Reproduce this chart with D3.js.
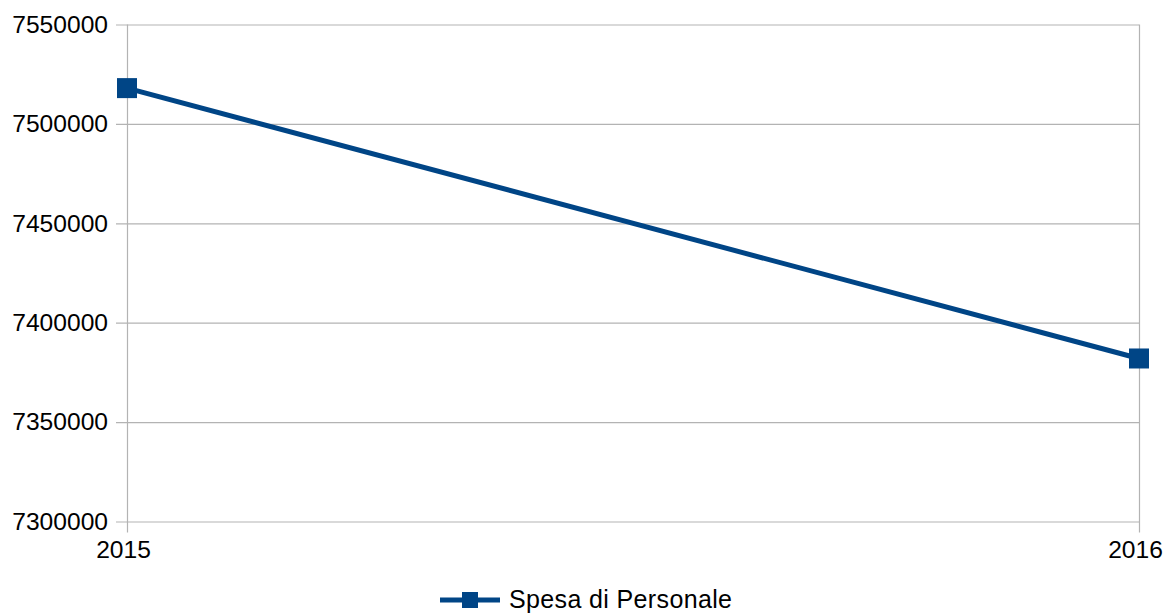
<!DOCTYPE html>
<html>
<head>
<meta charset="utf-8">
<script src="https://cdn.jsdelivr.net/npm/d3@7"></script>
<style>
  html, body { margin: 0; padding: 0; background: #fff; }
  svg { display: block; font-family: "Liberation Sans", Arial, sans-serif; }
</style>
</head>
<body>
<svg id="chart" width="1168" height="614"></svg>
<script>
// Personnel spending by year
const years = ["2015", "2016"];
const spesaPersonale = [7518000, 7382000];
const yTicks = [7300000, 7350000, 7400000, 7450000, 7500000, 7550000];
const seriesName = "Spesa di Personale";

const color = "#004586";
const gridColor = "#b3b3b3";
const fontSize = 24.6;

const svg = d3.select("#chart");
const plotLeft = 127, plotRight = 1139, plotTop = 24.5, plotBottom = 521.5;

const x = d3.scalePoint().domain(years).range([plotLeft, plotRight]);
const y = d3.scaleLinear().domain([7300000, 7550000]).range([plotBottom, plotTop]);

// horizontal gridlines with left ticks
const yAxis = d3.axisLeft(y).tickValues(yTicks).tickSize(plotRight - plotLeft + 11)
  .tickPadding(8).tickFormat(d3.format("d"));
const gy = svg.append("g").attr("transform", `translate(${plotRight},0)`).call(yAxis);
gy.select(".domain").remove();
gy.selectAll(".tick line").attr("stroke", gridColor).attr("stroke-width", 1.2);
gy.selectAll(".tick text").attr("font-size", fontSize).attr("fill", "#000")
  .attr("font-family", "Liberation Sans, Arial, sans-serif");

// vertical lines at categories
const xAxis = d3.axisBottom(x).tickSize(0).tickPadding(0);
const gx = svg.append("g").attr("transform", `translate(0,${plotBottom})`).call(xAxis);
gx.select(".domain").remove();
gx.selectAll(".tick line").remove();
gx.selectAll(".tick").append("line")
  .attr("y1", plotTop - plotBottom).attr("y2", 11)
  .attr("stroke", gridColor).attr("stroke-width", 1.2);
gx.selectAll(".tick text").attr("font-size", fontSize).attr("fill", "#000")
  .attr("y", 36.5).attr("dy", 0).attr("dx", -4)
  .attr("font-family", "Liberation Sans, Arial, sans-serif");

// series line
const line = d3.line().x((d, i) => x(years[i])).y(d => y(d));
svg.append("path").datum(spesaPersonale)
  .attr("d", line).attr("fill", "none")
  .attr("stroke", color).attr("stroke-width", 5);

// square markers
const ms = 20;
svg.selectAll("rect.marker").data(spesaPersonale).enter().append("rect")
  .attr("class", "marker")
  .attr("x", (d, i) => x(years[i]) - ms / 2)
  .attr("y", d => y(d) - ms / 2)
  .attr("width", ms).attr("height", ms)
  .attr("fill", color);

// legend
const lg = svg.append("g").attr("transform", "translate(440,600)");
lg.append("line").attr("x1", 0).attr("x2", 60).attr("y1", 0).attr("y2", 0)
  .attr("stroke", color).attr("stroke-width", 5);
lg.append("rect").attr("x", 22).attr("y", -8).attr("width", 16).attr("height", 16).attr("fill", color);
lg.append("text").attr("x", 69).attr("y", 7.5).attr("font-size", 25).attr("fill", "#000")
  .attr("textLength", 223).attr("lengthAdjust", "spacing")
  .text(seriesName);
</script>
</body>
</html>
